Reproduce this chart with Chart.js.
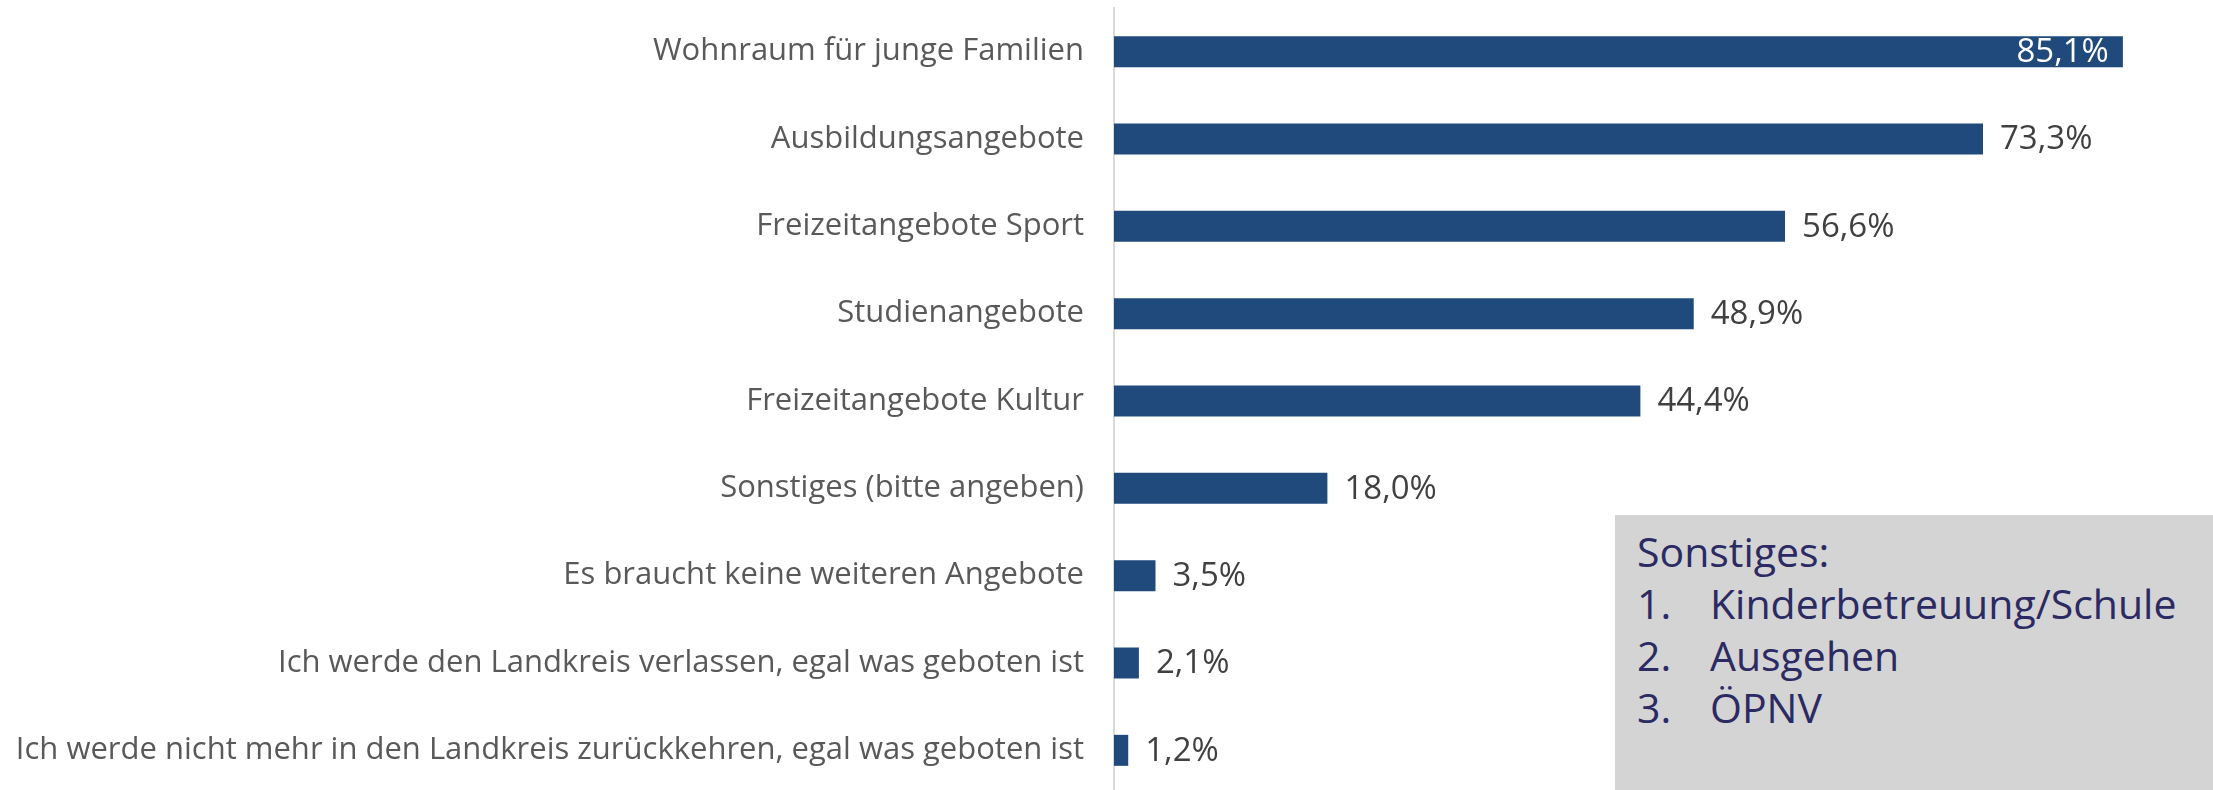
<!DOCTYPE html>
<html>
<head>
<meta charset="utf-8">
<script src="https://cdn.jsdelivr.net/npm/chart.js@4.4.1/dist/chart.umd.min.js"></script>
<style>
  html, body { margin: 0; padding: 0; background: #fff; overflow: hidden; }
  #wrap { position: relative; width: 2213px; height: 794px; }
  #note {
    position: absolute; left: 1615px; top: 515px; width: 598px; height: 280px;
    background: #d4d4d4; color: #2b2a63;
    font-family: "Open Sans", sans-serif; font-size: 41px; line-height: 52px;
    padding: 10px 0 0 22px; box-sizing: border-box;
  }
  #note .num { display: inline-block; width: 73px; }
</style>
</head>
<body>
<div id="wrap">
  <canvas id="barChart" width="2213" height="794"></canvas>
  <div id="note">
    <div>Sonstiges:</div>
    <div><span class="num">1.</span>Kinderbetreuung/Schule</div>
    <div><span class="num">2.</span>Ausgehen</div>
    <div><span class="num">3.</span>ÖPNV</div>
  </div>
</div>
<script>
var categories = [
  "Wohnraum für junge Familien",
  "Ausbildungsangebote",
  "Freizeitangebote Sport",
  "Studienangebote",
  "Freizeitangebote Kultur",
  "Sonstiges (bitte angeben)",
  "Es braucht keine weiteren Angebote",
  "Ich werde den Landkreis verlassen, egal was geboten ist",
  "Ich werde nicht mehr in den Landkreis zurückkehren, egal was geboten ist"
];
var values = [85.1, 73.3, 56.6, 48.9, 44.4, 18.0, 3.5, 2.1, 1.2];

function fmt(v) {
  return v.toFixed(1).replace(".", ",") + "%";
}

// draws the value next to (or inside) every bar
var valueLabels = {
  id: "valueLabels",
  afterDatasetsDraw: function(chart) {
    var ctx = chart.ctx;
    var meta = chart.getDatasetMeta(0);
    ctx.save();
    ctx.font = "33px 'Open Sans'";
    ctx.textBaseline = "middle";
    meta.data.forEach(function(bar, i) {
      var txt = fmt(values[i]);
      var w = ctx.measureText(txt).width;
      if (bar.x + 17 + w > chart.chartArea.right) {
        ctx.fillStyle = "#ffffff";
        ctx.textAlign = "right";
        ctx.fillText(txt, bar.x - 14, bar.y + 1);
      } else {
        ctx.fillStyle = "#404040";
        ctx.textAlign = "left";
        ctx.fillText(txt, bar.x + 17, bar.y + 1);
      }
    });
    ctx.restore();
  }
};

var ctx = document.getElementById("barChart").getContext("2d");
var myBarChart = new Chart(ctx, {
  type: "bar",
  data: {
    labels: categories,
    datasets: [{
      data: values,
      backgroundColor: "#214a7c",
      barPercentage: 0.355,
      categoryPercentage: 1
    }]
  },
  options: {
    indexAxis: "y",
    responsive: false,
    animation: false,
    layout: { padding: { top: 8, right: 0, bottom: 0, left: 0 } },
    plugins: {
      legend: { display: false },
      tooltip: { enabled: false }
    },
    scales: {
      x: {
        display: false,
        min: 0,
        max: 92.7
      },
      y: {
        afterFit: function(scale) {
          scale.width = 1114;
          scale.paddingTop = 0;
          scale.paddingBottom = 0;
        },
        grid: { display: false, drawTicks: false },
        border: { display: true, color: "#d9d9d9", width: 2 },
        ticks: {
          color: "#595959",
          padding: 30,
          font: { family: "Open Sans", size: 31 }
        }
      }
    }
  },
  plugins: [valueLabels]
});
</script>
</body>
</html>
